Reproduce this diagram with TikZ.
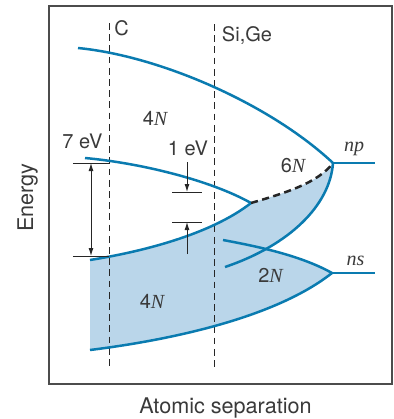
\documentclass[tikz,border=0pt]{standalone}
\usepackage{fontspec}
\setmainfont{TeX Gyre Heros}
\newfontfamily\serifit{Liberation Serif}
\usepackage{tikz}
\usetikzlibrary{arrows.meta}
\definecolor{bandline}{HTML}{0A7BB0}
\definecolor{bandfill}{HTML}{BAD6EA}
\definecolor{inkgray}{HTML}{3A3A3A}
\newcommand{\itN}{{\serifit\itshape N}}

\begin{document}
\begin{tikzpicture}[
            x=0.5pt, y=-0.5pt,
            every node/.style={font=\fontsize{10}{12}\selectfont, text=inkgray, inner sep=0pt, anchor=base},
            axl/.style={font=\fontsize{10.8}{13}\selectfont},
            orb/.style={font=\fontsize{10}{12}\selectfont\serifit\itshape},
            framel/.style={draw=black!70, line width=0.75pt},
            bandl/.style={draw=bandline, line width=1.25pt},
            gapl/.style={draw=black!85, line width=1.25pt, dash pattern=on 3.6pt off 2.2pt},
            sepl/.style={draw=black!85, line width=0.5pt, dash pattern=on 3.4pt off 2.2pt},
            tickl/.style={draw=black!85, line width=0.5pt},
            lead/.style={-{Latex[length=4pt,width=2.5pt]}, draw=black!85, line width=0.5pt},
            dimen/.style={{Latex[length=4pt,width=2.5pt]}-{Latex[length=4pt,width=2.5pt]}, draw=black!85, line width=0.5pt}
        ]
        \useasboundingbox (0,0) rectangle (394,419);

        % band end points
        \coordinate (np) at (333,163);
        \coordinate (ns) at (332,273);
        \coordinate (kink) at (251,203);

        % =============== shaded lower band ===============
        \fill[bandfill] (90,350) -- (90,260) .. controls (140,252) and (210,235) .. (kink)
            .. controls (285,193) and (318,183) .. (np)
            .. controls (330,205) and (290,245) .. (225,267) -- cycle;
        \fill[bandfill] (223,240) .. controls (255,246) and (300,255) .. (ns)
            .. controls (275,318) and (170,340) .. (90,350) -- cycle;

        % frame and lattice spacings
        \draw[framel] (49,6) rectangle (392,384);
        \draw[sepl] (109,23) -- (109,368);
        \draw[sepl] (215,24) -- (215,370);

        % =============== band edges ===============
        \draw[bandl] (78,48) .. controls (160,56) and (270,104) .. (np);
        \draw[bandl] (85,158) .. controls (140,163) and (210,180) .. (kink);
        \draw[bandl] (90,260) .. controls (140,252) and (210,235) .. (kink);
        \draw[gapl] (kink) .. controls (285,193) and (318,183) .. (np);
        \draw[bandl] (np) .. controls (330,205) and (290,245) .. (225,267);
        \draw[bandl] (223,240) .. controls (255,246) and (300,255) .. (ns);
        \draw[bandl] (90,350) .. controls (170,340) and (275,318) .. (ns);
        \draw[bandl] (np) -- (375,163);
        \draw[bandl] (ns) -- (375,273);

        % =============== gaps ===============
        \coordinate (sevtop) at (91,163);
        \coordinate (sevbot) at (91,256);
        \draw[tickl] (73,163) -- (109,163);
        \draw[tickl] (73,256) -- (109,256);
        \draw[dimen] (sevtop) -- (sevbot);

        \coordinate (oneup) at (187,192);
        \coordinate (onelo) at (187,222);
        \draw[tickl] (172,192) -- (202,192);
        \draw[tickl] (172,222) -- (202,222);
        \draw[lead] (187,162) -- (oneup);
        \draw[lead] (187,254) -- (onelo);

        % =============== labels ===============
        \node (lblC) at (121.5,35) {C};
        \node (lblSiGe) at (247,41) {Si,Ge};
        \node (lblSeven) at (82.5,148) {7 eV};
        \node (lblOne) at (188,155) {1 eV};
        \node (lblFourUp) at (155,125) {4\itN};
        \node (lblSix) at (293,172) {6\itN};
        \node (lblTwo) at (270.5,282) {2\itN};
        \node (lblFourLo) at (152,308) {4\itN};
        \node[orb] (lblNp) at (354,151) {np};
        \node[orb] (lblNs) at (355.5,265) {ns};
        \node[axl, rotate=90] (lblEnergy) at (33,197.5) {Energy};
        \node[axl] (lblSep) at (225.5,413) {Atomic separation};
    \end{tikzpicture}
\end{document}
